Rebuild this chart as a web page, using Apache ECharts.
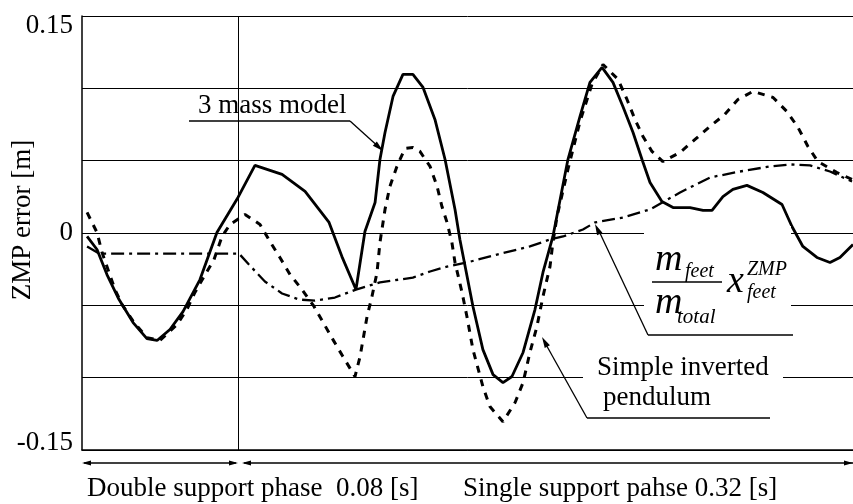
<!DOCTYPE html>
<html>
<head>
<meta charset="utf-8">
<script src="https://cdn.jsdelivr.net/npm/echarts@6/dist/echarts.min.js"></script>
<style>
html,body{margin:0;padding:0;background:#fff;}
#main{width:853px;height:504px;}
</style>
</head>
<body>
<div id="main"></div>
<script>
// ---- data (time in ms, ZMP error in m) ----
const yTickLabels = ['-0.15', '0', '0.15'];
const phaseLabels = ['Double support phase  0.08 [s]', 'Single support pahse 0.32 [s]'];
const phaseBoundary = 80;   // ms
const timeMax = 395.4;      // ms

const massT = [2.6,7.7,12.8,19.0,26.2,33.3,38.5,45.1,51.8,60.5,69.2,80.0,88.7,102.6,114.4,126.7,133.3,140.5,145.1,150.3,152.8,155.4,159.5,164.6,169.7,174.9,181.0,186.2,191.3,193.8,200.5,205.6,210.8,215.9,220.5,226.2,232.3,236.4,241.5,249.2,255.4,260.5,266.7,272.3,277.4,282.6,287.2,291.3,297.4,303.1,311.8,318.5,323.1,328.7,333.8,341.0,349.2,359.0,364.1,369.7,376.9,383.6,388.7,395.4];
const massV = [-0.0024,-0.0114,-0.0287,-0.0460,-0.0619,-0.0730,-0.0743,-0.0667,-0.0543,-0.0322,0.0003,0.0246,0.0467,0.0405,0.0287,0.0073,-0.0163,-0.0391,0.0010,0.0211,0.0508,0.0695,0.0944,0.1096,0.1096,0.1006,0.0785,0.0508,0.0163,-0.0045,-0.0508,-0.0806,-0.0979,-0.1034,-0.0992,-0.0826,-0.0529,-0.0273,-0.0024,0.0508,0.0806,0.1041,0.1145,0.1041,0.0875,0.0695,0.0508,0.0349,0.0218,0.0176,0.0176,0.0156,0.0156,0.0252,0.0301,0.0329,0.0280,0.0197,0.0045,-0.0093,-0.0169,-0.0204,-0.0169,-0.0080];

const pendT = [2.6,7.7,10.3,16.9,20.5,26.7,33.3,40.0,48.7,53.8,57.9,62.6,67.7,71.8,75.9,83.6,91.3,96.4,101.5,106.7,112.8,119.0,128.7,133.8,140.0,142.6,146.2,148.7,151.3,152.8,155.4,157.9,161.5,165.6,169.7,173.3,178.5,182.1,184.6,187.2,189.7,191.3,194.9,197.4,200.5,205.6,209.2,215.9,222.1,226.2,229.7,233.3,236.4,240.0,241.5,243.6,249.2,255.4,261.5,267.2,274.9,279.5,283.6,287.7,292.3,297.9,306.7,314.4,322.1,329.7,336.4,344.1,354.4,361.5,367.2,372.3,377.4,387.2,394.9];
const pendV = [0.0142,0.0003,-0.0135,-0.0391,-0.0494,-0.0619,-0.0723,-0.0743,-0.0633,-0.0529,-0.0411,-0.0301,-0.0183,-0.0024,0.0059,0.0128,0.0059,-0.0059,-0.0169,-0.0287,-0.0391,-0.0508,-0.0737,-0.0854,-0.0992,-0.0854,-0.0577,-0.0439,-0.0273,-0.0066,0.0163,0.0322,0.0460,0.0584,0.0591,0.0564,0.0460,0.0322,0.0183,0.0073,-0.0066,-0.0204,-0.0411,-0.0577,-0.0806,-0.1062,-0.1200,-0.1304,-0.1172,-0.1034,-0.0826,-0.0647,-0.0439,-0.0232,-0.0066,0.0114,0.0439,0.0771,0.1027,0.1165,0.1062,0.0923,0.0785,0.0667,0.0564,0.0494,0.0557,0.0647,0.0737,0.0820,0.0923,0.0979,0.0937,0.0840,0.0730,0.0598,0.0494,0.0418,0.0370];

const feetT = [2.6,8.7,80.5,85.6,93.8,102.6,111.3,119.5,129.7,140.5,152.8,169.7,178.5,187.2,197.4,212.8,229.7,240.0,246.7,256.9,263.1,277.4,291.3,306.7,322.1,337.4,352.8,363.1,373.3,383.6,394.9];
const feetV = [-0.0093,-0.0142,-0.0142,-0.0218,-0.0335,-0.0418,-0.0460,-0.0467,-0.0446,-0.0391,-0.0342,-0.0308,-0.0266,-0.0232,-0.0204,-0.0149,-0.0093,-0.0045,-0.0024,0.0024,0.0073,0.0107,0.0163,0.0280,0.0384,0.0425,0.0460,0.0474,0.0467,0.0425,0.0356];

const zip = (a, b) => a.map((x, i) => [x, b[i]]);

const FF = "'Liberation Serif', 'Times New Roman', serif";
const chart = echarts.init(document.getElementById('main'), null, {renderer: 'canvas'});

chart.setOption({
  animation: false,
  backgroundColor: '#fff',
  grid: {left: 82, right: 0, top: 16, bottom: 54, containLabel: false, outerBoundsMode: 'none'},
  xAxis: {
    type: 'value', min: 0, max: timeMax,
    axisLine: {show: true, onZero: false, lineStyle: {color: '#000', width: 1.5}},
    axisTick: {show: false}, axisLabel: {show: false}, splitLine: {show: false}
  },
  yAxis: {
    type: 'value', min: -0.15, max: 0.15, interval: 0.05,
    name: 'ZMP error [m]', nameLocation: 'middle', nameGap: 46, nameRotate: 90,
    nameMoveOverlap: false,
    nameTextStyle: {fontFamily: FF, fontSize: 27, color: '#000', padding: [0, 0, 0, 26]},
    axisLine: {show: true, lineStyle: {color: '#000', width: 1.5}},
    axisTick: {show: false},
    axisLabel: {
      show: true, margin: 9, showMinLabel: true, showMaxLabel: true,
      fontFamily: FF, fontSize: 27, color: '#000',
      formatter: function (v) {
        if (Math.abs(v - 0.15) < 1e-6) return '{t|' + yTickLabels[2] + '}';
        if (Math.abs(v + 0.15) < 1e-6) return '{b|' + yTickLabels[0] + '}';
        if (Math.abs(v) < 1e-6) return yTickLabels[1];
        return '';
      },
      rich: {
        t: {fontFamily: FF, fontSize: 27, color: '#000', padding: [20, 0, 0, 0]},
        b: {fontFamily: FF, fontSize: 27, color: '#000', padding: [0, 0, 14, 0]}
      }
    },
    splitLine: {show: true, lineStyle: {color: '#000', width: 1}}
  },
  series: [
    {
      name: '3 mass model', type: 'line', data: zip(massT, massV), symbol: 'none',
      lineStyle: {color: '#000', width: 2.8, type: 'solid'}, z: 5,
      markLine: {
        silent: true, symbol: 'none', label: {show: false},
        lineStyle: {color: '#000', width: 1, type: 'solid'},
        data: [{xAxis: phaseBoundary}]
      }
    },
    {
      name: 'Simple inverted pendulum', type: 'line', data: zip(pendT, pendV), symbol: 'none',
      lineStyle: {color: '#000', width: 3, type: [7, 7]}, z: 4
    },
    {
      name: 'm_feet/m_total x_feet^ZMP', type: 'line', data: zip(feetT, feetV), symbol: 'none',
      lineStyle: {color: '#000', width: 2.3, type: [13, 5, 3, 5]}, z: 3
    }
  ]
});

// ---- annotations ----
function txt(str, x, baseline, size, italic) {
  const y = baseline - 0.3375 * size;
  return {
    type: 'text', x: x, y: y, z: 102,
    style: {
      text: str, fill: '#000',
      font: (italic ? 'italic ' : '') + size + 'px ' + FF,
      textAlign: 'left', textVerticalAlign: 'middle', align: 'left', verticalAlign: 'middle'
    }
  };
}
function seg(x1, y1, x2, y2, w) {
  return {type: 'line', z: 101, shape: {x1: x1, y1: y1, x2: x2, y2: y2},
          style: {stroke: '#000', lineWidth: w || 1.3}};
}
function head(xFrom, yFrom, xTip, yTip, len, wid) {
  const dx = xTip - xFrom, dy = yTip - yFrom, L = Math.hypot(dx, dy);
  const ux = dx / L, uy = dy / L, px = -uy, py = ux;
  const bx = xTip - ux * len, by = yTip - uy * len;
  return {type: 'polygon', z: 101,
          shape: {points: [[xTip, yTip], [bx + px * wid / 2, by + py * wid / 2], [bx - px * wid / 2, by - py * wid / 2]]},
          style: {fill: '#000'}};
}
function rect(x, y, w, h) {
  return {type: 'rect', z: 100, shape: {x: x, y: y, width: w, height: h}, style: {fill: '#fff'}};
}

const pA = chart.convertToPixel({gridIndex: 0}, [0, -0.15]);
const pB = chart.convertToPixel({gridIndex: 0}, [phaseBoundary, -0.15]);
const pC = chart.convertToPixel({gridIndex: 0}, [timeMax, -0.15]);
const ay = pA[1] + 13;

const g = [];
// 3 mass model
g.push(txt('3 mass model', 198, 115, 27, false));
g.push(seg(189, 121, 350, 121));
g.push(seg(350, 121, 381, 149));
g.push(head(350, 121, 383, 151, 11, 6));
// formula box
g.push(rect(644, 226, 147, 104));
g.push(txt('m', 655, 273, 38, true));
g.push(txt('feet', 685, 278, 20, true));
g.push(seg(652, 282, 722, 282, 1.3));
g.push(txt('m', 655, 316, 38, true));
g.push(txt('total', 677, 325, 21, true));
g.push(txt('x', 727, 295, 38, true));
g.push(txt('ZMP', 747, 276, 20, true));
g.push(txt('feet', 747, 299, 20, true));
g.push(seg(648, 335, 793, 335));
g.push(seg(648, 335, 598, 229));
g.push(head(648, 335, 595, 224, 11, 6));
// simple inverted pendulum
g.push(rect(583, 352, 200, 33));
g.push(txt('Simple inverted', 597, 377, 27, false));
g.push(txt('pendulum', 603, 407, 27, false));
g.push(seg(587, 418, 770, 418));
g.push(seg(587, 418, 544, 341));
g.push(head(587, 418, 542, 337, 11, 6));
// phase arrows
g.push(seg(pA[0] + 2, ay, pB[0] - 2, ay, 1.5));
g.push(head(pB[0], ay, pA[0], ay, 9, 5));
g.push(head(pA[0], ay, pB[0], ay, 9, 5));
g.push(seg(pB[0] + 6, ay, pC[0], ay, 1.5));
g.push(head(pC[0], ay, pB[0] + 4, ay, 9, 5));
g.push(head(pB[0], ay, pC[0], ay, 9, 5));
g.push(txt(phaseLabels[0], 87, 498, 27, false));
g.push(txt(phaseLabels[1], 463, 498, 27, false));

chart.setOption({graphic: {elements: g}});
</script>
</body>
</html>
